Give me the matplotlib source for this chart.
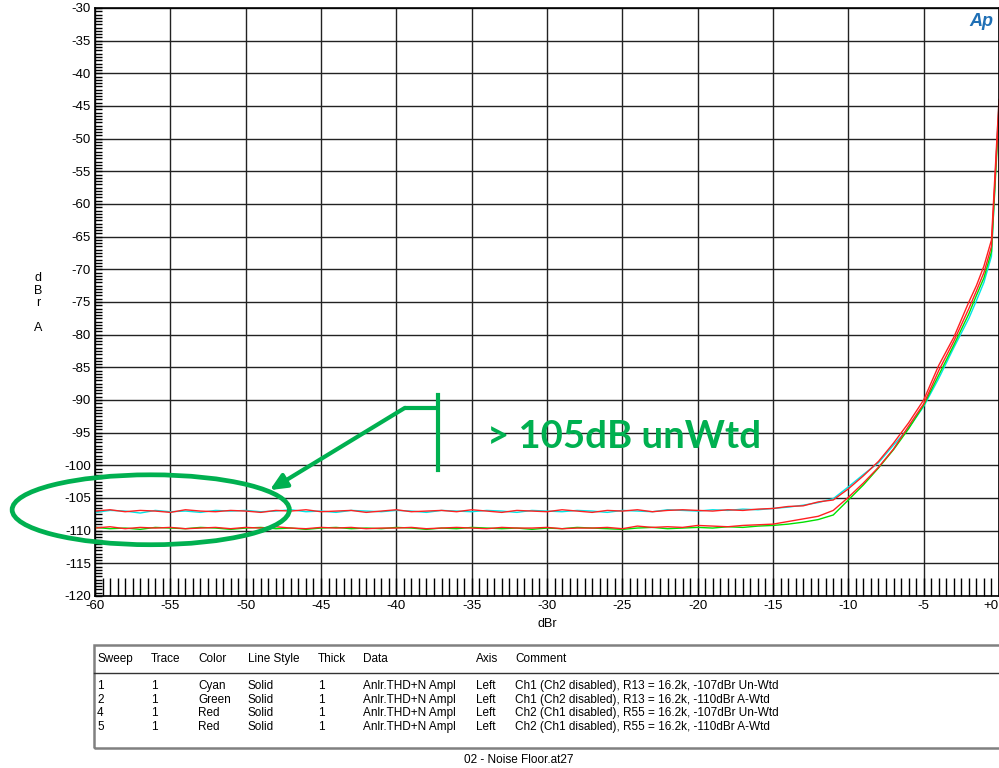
import matplotlib
matplotlib.use("Agg")
import matplotlib.pyplot as plt
from matplotlib.patches import Ellipse, Rectangle
from matplotlib.lines import Line2D
import numpy as np

plt.rcParams['font.family'] = ['Liberation Sans', 'DejaVu Sans']
plt.rcParams['axes.unicode_minus'] = False

# -------------------------
# Sweep data (dBr in -> dBr A out)
# -------------------------
x_dbr = list(range(-60, -1)) + [-1.5, -1.0, -0.5, 0.0]

cyan_ch1_unwtd = [
    -107.2, -106.9, -107.0, -107.3, -106.9, -107.1, -107.0, -107.2, -106.9, -107.0,
    -106.9, -107.1, -107.0, -106.8, -107.1, -107.0, -107.2, -106.9, -107.0, -107.1,
    -106.9, -107.0, -107.2, -106.9, -107.0, -107.1, -106.9, -107.0, -107.2, -106.9,
    -107.0, -107.1, -106.9, -107.0, -107.2, -106.9, -107.0, -107.1, -106.8, -106.9,
    -107.0, -106.8, -106.9, -106.7, -106.8,
    -106.6, -106.4, -106.1, -105.7, -105.1, -103.3, -101.4, -99.6, -96.9, -94.3,
    -91.0, -86.7, -82.0, -77.5,
    -74.8, -72.0, -68.0, -44.0]

green_ch1_awtd = [
    -109.5, -109.7, -109.6, -109.8, -109.5, -109.6, -109.7, -109.5, -109.6, -109.8,
    -109.6, -109.5, -109.7, -109.6, -109.8, -109.6, -109.5, -109.7, -109.6, -109.7,
    -109.5, -109.6, -109.8, -109.6, -109.7, -109.5, -109.6, -109.7, -109.6, -109.8,
    -109.6, -109.7, -109.5, -109.6, -109.7, -109.8, -109.6, -109.5, -109.7, -109.6,
    -109.5, -109.6, -109.4, -109.5, -109.3,
    -109.2, -109.0, -108.7, -108.3, -107.6, -105.3, -103.0, -100.4, -97.6, -94.4,
    -90.8, -86.2, -81.6, -76.8,
    -74.0, -71.3, -67.3, -46.0]

red_ch2_unwtd = [
    -107.0, -106.8, -107.1, -106.9, -107.0, -107.2, -106.8, -107.0, -107.1, -106.9,
    -107.0, -107.2, -106.9, -107.0, -106.8, -107.1, -107.0, -106.9, -107.2, -107.0,
    -106.8, -107.1, -107.0, -106.9, -107.1, -106.8, -107.0, -107.2, -106.9, -107.0,
    -107.1, -106.8, -107.0, -107.2, -106.9, -107.0, -106.8, -107.1, -106.9, -106.8,
    -106.9, -107.0, -106.8, -106.9, -106.7,
    -106.6, -106.3, -106.2, -105.6, -105.3, -103.6, -101.6, -99.4, -96.6, -93.5,
    -90.0, -84.7, -80.4, -75.0,
    -72.5, -69.5, -65.5, -44.0]

red_ch2_awtd = [
    -109.6, -109.4, -109.7, -109.5, -109.6, -109.5, -109.7, -109.6, -109.5, -109.7,
    -109.5, -109.6, -109.4, -109.6, -109.7, -109.5, -109.6, -109.5, -109.7, -109.6,
    -109.6, -109.5, -109.7, -109.6, -109.5, -109.6, -109.7, -109.5, -109.6, -109.6,
    -109.5, -109.7, -109.6, -109.6, -109.5, -109.7, -109.3, -109.5, -109.4, -109.5,
    -109.2, -109.3, -109.4, -109.2, -109.1,
    -109.0, -108.6, -108.2, -107.8, -106.9, -104.9, -102.7, -100.3, -97.5, -94.0,
    -90.6, -85.5, -81.0, -76.0,
    -73.3, -70.5, -66.5, -45.0]

x_ticks = list(range(-60, 1, 5))
x_ticklabels = [str(v) for v in x_ticks[:-1]] + ["+0"]
y_ticks = list(range(-120, -29, 5))

table_cols = ["Sweep", "Trace", "Color", "Line Style", "Thick", "Data", "Axis", "Comment"]
table_rows = [
    ["1", "1", "Cyan", "Solid", "1", "Anlr.THD+N Ampl", "Left", "Ch1 (Ch2 disabled), R13 = 16.2k, -107dBr Un-Wtd"],
    ["2", "1", "Green", "Solid", "1", "Anlr.THD+N Ampl", "Left", "Ch1 (Ch2 disabled), R13 = 16.2k, -110dBr A-Wtd"],
    ["4", "1", "Red", "Solid", "1", "Anlr.THD+N Ampl", "Left", "Ch2 (Ch1 disabled), R55 = 16.2k, -107dBr Un-Wtd"],
    ["5", "1", "Red", "Solid", "1", "Anlr.THD+N Ampl", "Left", "Ch2 (Ch1 disabled), R55 = 16.2k, -110dBr A-Wtd"],
]
col_x = [97, 151, 198, 248, 318, 363, 476, 515]

W, H = 999, 768
fig = plt.figure(figsize=(W / 100, H / 100), dpi=100)
ax = fig.add_axes([95 / W, 1 - 596 / H, 904 / W, 588 / H])

ax.plot(x_dbr, cyan_ch1_unwtd, color="#00e5e5", lw=1)
ax.plot(x_dbr, green_ch1_awtd, color="#00e000", lw=1)
ax.plot(x_dbr, red_ch2_unwtd, color="#ff2020", lw=1)
ax.plot(x_dbr, red_ch2_awtd, color="#ff2020", lw=1)

ax.set_xlim(-60, 0)
ax.set_ylim(-120, -30)
ax.set_xticks(x_ticks)
ax.set_xticklabels(x_ticklabels)
ax.get_xticklabels()[-1].set_ha('right')
ax.set_yticks(y_ticks)
ax.set_xticks(np.arange(-60, 0.01, 0.5), minor=True)
ax.set_yticks(np.arange(-120, -29.9, 0.5), minor=True)
ax.tick_params(axis='x', which='both', direction='in', length=13, width=1,
               labelsize=9.5, pad=3)
ax.tick_params(axis='y', which='both', direction='in', length=5, width=1,
               labelsize=9.5, pad=3)
ax.grid(True, which='major', color='#222222', lw=1)
for s in ax.spines.values():
    s.set_color('black')
    s.set_linewidth(1.2)

ax.set_xlabel("dBr", fontsize=9, labelpad=4)
fig.text(38 / W, 1 - 303 / H, "d\nB\nr\n\nA", fontsize=9, ha='center',
         va='center', linespacing=1.05)

# AP logo
fig.text(981 / W, 1 - 21 / H, "Ap", fontsize=13, fontweight='bold',
         fontstyle='italic', color='#1f6fb5', ha='center', va='center')

# green annotation
green = "#00b050"
ax.add_patch(Ellipse((-56.3, -106.8), 18.4, 10.7, fill=False, ec=green,
                     lw=3.4, clip_on=False, zorder=5))
ax.plot([-37.24, -37.24], [-89.25, -100.7], color=green, lw=3, zorder=5)
ax.plot([-37.24, -39.43], [-91.2, -91.2], color=green, lw=3, zorder=5,
        solid_capstyle='butt')
ax.annotate("", xy=(-48.4, -103.8), xytext=(-39.43, -91.2),
            arrowprops=dict(arrowstyle="-|>,head_length=1.0,head_width=0.45",
                            color=green, lw=3, shrinkA=0, shrinkB=0), zorder=5)
ax.text(-34.0, -95.6, "> 105dB unWtd", color=green, fontsize=27.5,
        fontweight='bold', family='Lato', ha='left', va='center', zorder=6)

# sweep table
fig.add_artist(Rectangle((94 / W, 1 - 748 / H), (W + 5 - 94) / W, 103 / H,
                         transform=fig.transFigure, fill=False, ec='#808080',
                         lw=1.8))
fig.add_artist(Line2D([94 / W, 1], [1 - 673 / H, 1 - 673 / H],
                      transform=fig.transFigure, color='#333333', lw=1))
for cx, name in zip(col_x, table_cols):
    fig.text(cx / W, 1 - 659 / H, name, fontsize=8.5, ha='left', va='center')
for i, row in enumerate(table_rows):
    yy = 1 - (686 + 13.7 * i) / H
    for cx, val in zip(col_x, row):
        fig.text(cx / W, yy, val, fontsize=8.5, ha='left', va='center')
fig.text(519 / W, 1 - 760 / H, "02 - Noise Floor.at27", fontsize=8.5,
         ha='center', va='center')

fig.savefig("out.png", dpi=100)
